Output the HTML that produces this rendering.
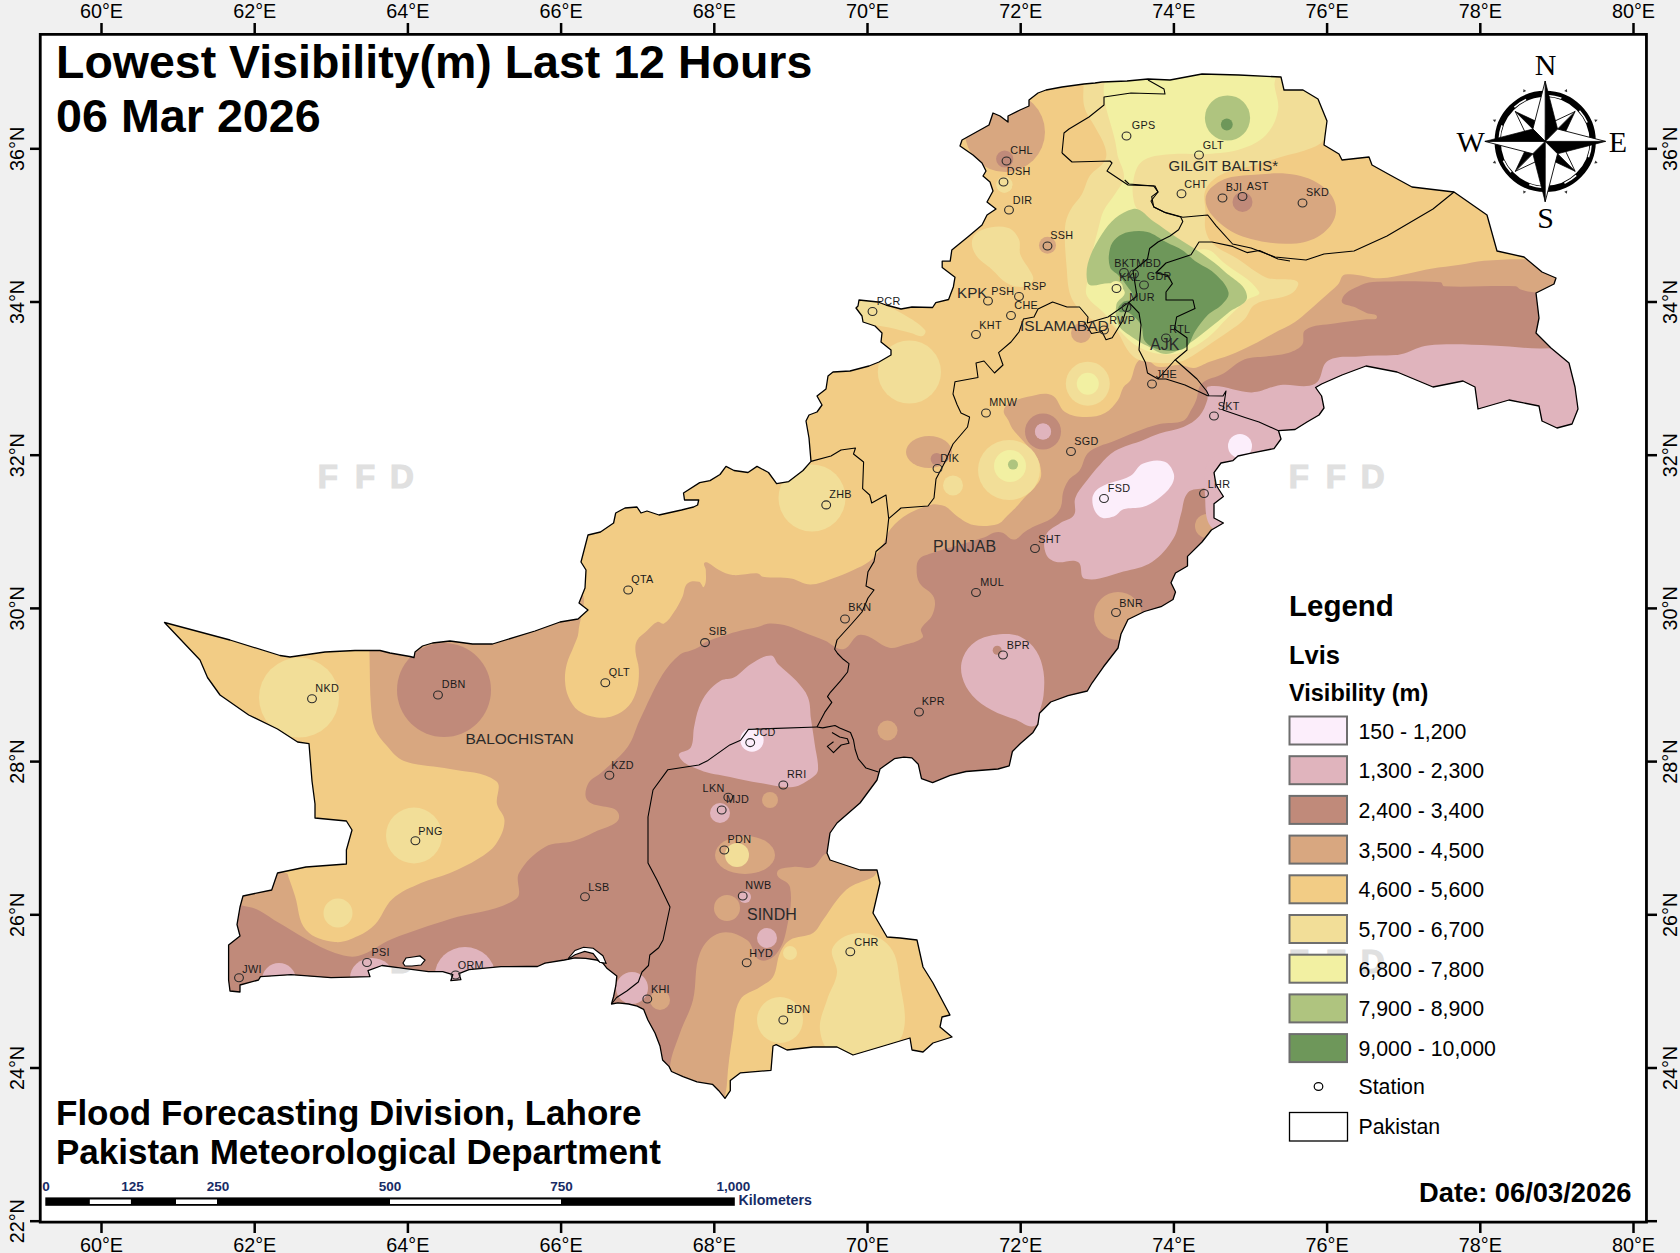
<!DOCTYPE html><html><head><meta charset="utf-8"><style>
html,body{margin:0;padding:0;background:#f0f0f0;width:1680px;height:1253px;overflow:hidden}
svg{display:block}
text{font-family:"Liberation Sans",sans-serif}
</style></head><body>
<svg width="1680" height="1253" viewBox="0 0 1680 1253">
<rect x="0" y="0" width="1680" height="1253" fill="#f0f0f0"/>
<rect x="40.5" y="34.5" width="1606" height="1187" fill="#ffffff"/>

<text x="317.8" y="488.2" font-size="33" font-weight="bold" fill="#e0e0e0" stroke="#e0e0e0" stroke-width="1.2">F</text>
<text x="354.9" y="488.2" font-size="33" font-weight="bold" fill="#e0e0e0" stroke="#e0e0e0" stroke-width="1.2">F</text>
<text x="389.9" y="488.2" font-size="33" font-weight="bold" fill="#e0e0e0" stroke="#e0e0e0" stroke-width="1.2">D</text>
<text x="1288.7" y="488.2" font-size="33" font-weight="bold" fill="#e0e0e0" stroke="#e0e0e0" stroke-width="1.2">F</text>
<text x="1325.8" y="488.2" font-size="33" font-weight="bold" fill="#e0e0e0" stroke="#e0e0e0" stroke-width="1.2">F</text>
<text x="1360.8" y="488.2" font-size="33" font-weight="bold" fill="#e0e0e0" stroke="#e0e0e0" stroke-width="1.2">D</text>
<text x="317.8" y="973.2" font-size="33" font-weight="bold" fill="#e0e0e0" stroke="#e0e0e0" stroke-width="1.2">F</text>
<text x="354.9" y="973.2" font-size="33" font-weight="bold" fill="#e0e0e0" stroke="#e0e0e0" stroke-width="1.2">F</text>
<text x="389.9" y="973.2" font-size="33" font-weight="bold" fill="#e0e0e0" stroke="#e0e0e0" stroke-width="1.2">D</text>
<text x="1288.7" y="973.2" font-size="33" font-weight="bold" fill="#e0e0e0" stroke="#e0e0e0" stroke-width="1.2">F</text>
<text x="1325.8" y="973.2" font-size="33" font-weight="bold" fill="#e0e0e0" stroke="#e0e0e0" stroke-width="1.2">F</text>
<text x="1360.8" y="973.2" font-size="33" font-weight="bold" fill="#e0e0e0" stroke="#e0e0e0" stroke-width="1.2">D</text>
<defs><clipPath id="pk"><path d="M164.5,622.5 L230,640 L280,655.5 L290,657 L325,652 L355,650.5 L380,650.5 L390,653 L410,656.5 L414,657.5 L415,652 L422.5,646 L432.5,643 L450,641 L472.5,644 L492.5,644 L535,631 L560,622 L578,619 L588,610 L579,603 L585,588 L586,570 L581,562 L588,535 L600.5,532 L613.6,523 L615.7,513 L625,508 L637,507 L641,513 L647,511 L659,515 L681.5,510 L693.6,507 L697.6,505 L698.7,500 L684.5,500 L683.5,493 L699.7,482.6 L710,480.6 L720,474.5 L726,466.4 L734,470.5 L748,472.5 L757,466.4 L768.5,472.5 L776.6,483.6 L788.7,481.6 L803,470.5 L811,461.4 L809,438 L806,421 L809,415 L817,412 L822,405 L817,396 L826,389 L828,376 L833,372 L850,371 L869,366 L879,362 L891,355 L891,350 L886,346 L881,342 L882,333 L875,326 L863,322 L862,316 L856,308 L858,306 L859,300 L878,302 L886,305 L901,309 L912,307 L932.6,307.5 L935.8,302.7 L948.6,299.5 L953.4,286.7 L955,277.2 L942.2,267.6 L942.2,261.2 L950.2,261.2 L951.8,250 L969.3,235.7 L982,225 L987,215 L996,209 L987,202 L993,191 L990,182 L983,176 L986,171 L982,163 L973,155 L960,146 L962,140 L989,125 L993,113 L1000,116 L1008,122 L1008,116 L1020,110 L1029,106 L1029,100 L1038,93 L1046,90 L1062,87 L1084,84 L1095,83 L1102,82 L1127,81 L1148,79 L1170,80 L1202,74 L1239,75 L1281,77 L1284,90 L1303,90 L1318,99 L1327,121 L1325,136 L1324,145 L1339,154 L1342,160 L1369,157 L1372,165 L1390,175 L1412,187 L1454,192 L1487,215 L1497,251 L1524,257 L1542,272 L1556,278 L1554,284 L1536,293 L1539,318 L1536,333 L1551,348 L1569,363 L1575,387 L1578,409 L1572,424 L1557,428 L1542,421 L1539,406 L1509,400 L1478,409 L1475,387 L1463,381 L1433,387 L1397,372 L1366,366 L1342,375 L1321.6,384 L1315.6,387.5 L1321.6,396 L1324,408 L1319,415 L1307,422 L1295,429.5 L1278.5,430.7 L1281,439 L1274,448.6 L1250,453.4 L1238,456 L1233,460.6 L1221,463 L1214,472.6 L1216,484.5 L1218.6,489 L1223.4,496.5 L1214,503.7 L1214,518 L1223.4,523 L1211.4,530 L1202,542 L1187.5,556.4 L1187.5,566 L1175.5,573 L1171,582.8 L1175.5,592 L1173,599.5 L1161,606.7 L1144.4,611.5 L1128,619.5 L1121,634 L1118,648 L1103.3,667 L1092,683 L1087.3,691 L1068,695.7 L1050.7,702 L1039.5,713.2 L1037.9,724.4 L1033,732.4 L1020.4,743.5 L1012.4,751.5 L1009.2,765.9 L998,769 L966,771.5 L950.2,775.4 L932.6,782.6 L921.5,778.6 L918.3,764.3 L911.9,757.9 L903.9,757.1 L894.4,758.7 L880,769 L877,780 L860,803 L837,823 L830,833 L827,853 L830,860 L860,870 L877,870 L880,883 L873,913 L887,937 L900,938 L917,940 L923,967 L933,983 L950,1015 L942,1017 L940,1027 L952,1037 L933,1043 L923,1052 L912,1050 L910,1038 L880,1047 L853,1055 L837,1047 L813,1047 L787,1050 L776.2,1044.7 L773,1046 L771,1070.3 L740.5,1072.8 L730.3,1080.5 L730.3,1090.7 L725,1098.4 L718.8,1090.7 L712.4,1084.3 L697,1081.8 L683,1076.7 L671.5,1071.5 L669,1066.4 L662.6,1060 L660,1046 L655,1033 L647.9,1020 L643.6,1009.3 L637.2,1006.1 L628.6,1004 L617.9,1002.9 L611.5,1004 L613.6,996.5 L615.8,985.7 L616.8,976.1 L607.2,968.6 L602.9,963.2 L596.5,960 L585.7,958.4 L575,957.9 L564.3,960 L545,963.2 L537.5,966.5 L526.8,966.5 L501,966.6 L469,969.6 L458.9,973.6 L460.9,979.7 L450.8,980.7 L452.8,974.7 L442.7,971.6 L428.5,971.6 L398,967.6 L382,965.5 L368,970.6 L370,976.7 L331,977.7 L291,974.7 L260.5,976.7 L258.5,980 L240,985 L240,992 L230,991 L228.6,980 L228.6,945 L240,936 L237,924.6 L240,907 L243,896 L271.7,890 L277.5,873 L306,867 L346.4,864 L346.4,850 L352,830 L346.4,821 L315,818 L315,804 L312,781 L309,743.6 L297.6,742 L277.5,729 L248.7,715 L220,695 L207.5,677.5 L200,660Z"/></clipPath></defs>
<g clip-path="url(#pk)">
<rect x="0" y="0" width="1680" height="1253" fill="#F2CC85"/>
<path d="M369.0,590.0 C355.3,592.6 369.2,616.0 369.3,630.0 C369.4,640.5 369.4,649.5 369.6,660.0 C370.0,676.1 369.7,689.9 371.0,706.0 C371.6,714.1 372.0,721.4 375.0,729.0 C377.7,735.8 382.1,740.6 387.0,746.0 C392.3,751.9 396.5,758.3 404.0,761.0 C419.4,766.6 434.0,765.5 450.0,769.0 C466.3,772.5 482.7,771.1 496.0,781.0 C502.5,785.8 495.3,796.1 497.0,804.0 C498.4,810.4 504.7,814.5 504.5,821.0 C504.3,829.6 500.9,836.9 496.0,844.0 C491.5,850.5 485.3,854.3 478.6,858.5 C469.1,864.5 460.3,868.6 450.0,873.0 C440.1,877.2 430.8,878.6 421.0,883.0 C410.5,887.7 400.9,891.3 392.4,899.0 C384.4,906.3 382.4,916.7 375.0,924.6 C370.1,929.8 364.6,933.1 358.0,936.0 C350.4,939.3 343.3,943.0 335.0,942.0 C324.1,940.7 313.2,938.3 306.0,930.0 C297.8,920.6 298.9,907.9 295.0,896.0 C293.0,889.9 291.3,884.6 289.0,878.6 C288.2,876.5 288.2,873.1 286.0,873.0 C238.4,871.1 171.0,830.3 150.0,873.0 C107.3,960.0 54.7,1132.4 150.0,1150.0 C666.3,1245.3 1198.2,1417.4 1650.0,1150.0 C1917.4,991.7 1681.3,571.2 1650.0,262.0 C1646.8,230.7 1591.5,262.7 1560.0,262.0 C1547.3,261.7 1536.5,259.4 1523.8,259.2 C1509.9,259.0 1497.9,259.6 1484.0,260.8 C1475.5,261.5 1468.4,263.5 1460.0,264.8 C1449.9,266.3 1441.1,267.1 1431.0,268.8 C1423.2,270.1 1416.6,272.0 1408.8,273.5 C1398.8,275.4 1390.2,278.1 1380.0,278.3 C1367.7,278.5 1357.2,272.7 1345.0,274.5 C1340.7,275.1 1340.9,281.4 1338.0,284.6 C1333.4,289.5 1328.7,293.0 1323.7,297.5 C1318.6,302.1 1314.2,306.0 1309.0,310.5 C1304.2,314.6 1300.3,318.6 1295.0,322.0 C1287.8,326.6 1280.9,329.4 1273.4,333.4 C1265.9,337.4 1259.6,341.2 1252.0,345.0 C1244.4,348.8 1237.9,351.9 1230.0,355.0 C1222.8,357.8 1216.3,359.4 1209.0,362.0 C1203.7,363.9 1199.6,367.4 1194.0,368.0 C1189.0,368.5 1185.0,365.2 1180.0,365.0 C1172.3,364.7 1165.6,368.1 1158.0,366.7 C1152.8,365.7 1150.6,359.4 1145.4,358.4 C1142.2,357.8 1138.9,359.9 1137.0,362.6 C1133.3,368.0 1133.7,374.3 1130.6,380.0 C1128.9,383.1 1125.3,384.2 1123.4,387.2 C1120.8,391.3 1120.8,396.0 1118.0,400.0 C1114.3,405.2 1110.7,410.1 1105.0,413.0 C1098.7,416.3 1092.1,417.2 1085.0,417.0 C1077.8,416.8 1071.0,416.0 1065.0,412.0 C1058.7,407.8 1058.6,397.9 1051.6,395.0 C1043.8,391.8 1035.8,395.1 1027.6,396.8 C1020.6,398.3 1014.6,400.4 1008.5,404.0 C1005.9,405.5 1003.8,408.0 1003.7,411.0 C1003.6,414.5 1006.6,416.8 1008.2,420.0 C1009.7,423.1 1010.6,426.0 1012.6,428.9 C1014.9,432.3 1017.6,434.8 1020.4,437.9 C1023.5,441.4 1026.4,444.3 1029.4,447.9 C1032.3,451.3 1035.0,454.1 1037.2,458.0 C1039.0,461.2 1040.0,464.4 1040.6,468.0 C1041.2,471.5 1041.6,474.7 1040.6,478.1 C1039.6,481.6 1037.3,484.1 1035.0,487.0 C1032.2,490.5 1029.1,492.8 1026.0,496.0 C1022.4,499.8 1019.6,503.4 1016.0,507.2 C1013.0,510.4 1010.2,513.0 1007.0,516.0 C1003.9,518.9 1002.0,522.8 998.0,523.9 C989.7,526.1 981.9,526.6 973.5,525.0 C967.0,523.7 962.3,519.7 956.8,516.0 C952.9,513.4 950.6,509.8 946.7,507.2 C944.6,505.8 942.4,505.4 940.0,505.0 C937.2,504.5 934.7,503.7 932.0,504.5 C923.3,506.9 915.8,509.4 908.0,514.0 C901.3,518.0 895.8,522.4 891.0,528.5 C886.1,534.7 885.0,542.0 880.7,548.6 C877.4,553.7 874.0,557.9 869.2,561.6 C864.3,565.5 859.1,567.4 853.4,570.0 C846.0,573.4 839.5,576.2 831.8,578.8 C824.4,581.3 818.1,584.6 810.3,584.5 C803.2,584.4 798.0,579.5 791.0,578.4 C781.2,576.8 772.6,578.2 762.8,576.7 C760.7,576.4 759.9,573.5 757.8,573.4 C749.0,572.9 741.4,575.8 732.6,575.0 C727.5,574.6 723.5,572.3 719.0,570.0 C714.7,567.9 711.9,564.4 707.5,562.5 C706.3,562.0 704.3,562.2 704.0,563.4 C703.5,565.7 705.8,567.6 705.8,570.0 C705.8,575.9 707.0,581.7 704.0,586.8 C702.8,588.9 701.4,582.3 699.0,581.8 C695.0,581.0 690.4,580.7 687.4,583.5 C683.7,586.9 684.5,592.4 682.4,596.9 C679.8,602.4 677.4,607.0 674.0,612.0 C671.0,616.4 668.6,620.8 664.0,623.6 C661.9,624.8 659.5,621.1 657.3,622.0 C653.0,623.7 650.6,627.3 647.2,630.4 C643.5,633.8 639.4,636.0 637.0,640.4 C635.1,644.0 635.2,647.9 635.5,652.0 C635.9,658.0 638.6,662.9 638.8,668.9 C639.1,676.0 638.9,682.2 637.0,689.0 C635.3,695.3 633.1,700.8 628.8,705.7 C624.6,710.5 619.7,713.6 613.7,715.8 C608.2,717.8 602.8,718.3 597.0,717.5 C590.2,716.5 584.1,714.8 578.5,710.8 C573.7,707.3 570.9,702.4 568.5,697.0 C566.1,691.6 565.3,686.5 565.0,680.6 C564.7,674.7 565.4,669.6 566.8,663.9 C568.4,657.7 571.3,653.0 573.5,647.0 C575.4,641.8 578.2,637.5 578.5,632.0 C579.4,617.3 591.3,592.9 576.9,590.0 C505.6,575.7 440.5,576.2 369.0,590.0Z" fill="#D8A780"/>
<path d="M727.0,1150.0 C704.2,1144.4 725.8,1106.4 727.0,1083.0 C727.9,1065.4 730.3,1050.4 733.0,1033.0 C734.8,1021.3 734.0,1010.2 740.0,1000.0 C744.2,992.8 753.2,991.8 760.0,987.0 C764.7,983.7 770.1,981.9 773.0,977.0 C777.4,969.5 776.3,961.0 780.0,953.0 C782.4,947.8 785.1,943.0 790.0,940.0 C797.2,935.6 805.8,937.4 813.0,933.0 C817.9,930.0 819.6,924.6 823.0,920.0 C828.0,913.1 831.6,906.6 837.0,900.0 C841.1,895.0 844.6,890.5 850.0,887.0 C857.4,882.3 865.4,881.3 873.0,877.0 C876.0,875.3 876.6,870.5 880.0,870.0 C921.8,864.4 983.4,821.3 1000.0,860.0 C1040.0,953.3 1069.6,1076.1 1000.0,1150.0 C934.5,1219.6 819.8,1172.8 727.0,1150.0Z" fill="#F2CC85"/>
<path d="M150.0,900.0 C163.1,867.8 214.8,901.1 249.0,907.0 C260.1,908.9 267.7,916.5 277.5,922.0 C287.6,927.7 295.8,933.5 306.0,939.0 C315.9,944.3 324.3,949.5 335.0,953.0 C342.7,955.5 350.1,957.9 358.0,956.0 C370.9,952.8 379.7,944.0 392.0,939.0 C411.9,931.0 429.6,925.6 450.0,919.0 C473.0,911.6 495.9,912.4 516.0,899.0 C523.6,893.9 514.5,881.0 519.0,873.0 C525.3,861.8 533.9,853.5 545.0,847.0 C553.8,841.8 563.7,843.9 573.4,841.0 C580.7,838.8 586.9,836.4 593.6,832.6 C603.0,827.2 620.9,825.6 619.0,815.0 C616.9,803.3 596.4,809.4 588.0,801.0 C583.8,796.8 585.4,789.4 588.0,784.0 C590.8,778.2 597.3,776.4 602.0,772.0 C611.3,763.3 620.5,756.7 628.0,746.4 C633.8,738.4 635.2,729.5 639.5,720.6 C647.3,704.4 653.1,689.9 662.5,674.6 C667.4,666.6 672.9,660.5 680.0,654.5 C683.1,651.9 687.1,652.0 690.8,650.5 C693.7,649.4 696.3,648.5 699.0,647.0 C701.6,645.5 703.1,643.2 705.8,642.0 C711.9,639.1 717.6,637.5 724.0,635.4 C729.9,633.5 735.0,631.9 741.0,630.4 C746.8,629.0 752.0,628.4 757.8,627.0 C761.9,626.0 765.2,623.7 769.5,623.6 C776.3,623.4 782.1,624.6 788.7,626.2 C793.9,627.5 798.0,630.0 803.0,632.0 C810.6,635.0 817.2,637.4 824.7,640.6 C831.3,643.4 836.2,650.3 843.3,649.2 C851.1,647.9 852.7,635.0 860.6,634.8 C871.6,634.5 878.6,645.3 889.3,647.8 C894.3,649.0 898.8,646.5 903.7,645.0 C910.4,642.9 917.2,642.5 922.4,637.7 C924.7,635.6 919.8,631.8 921.0,629.0 C923.6,623.1 930.0,620.6 932.4,614.7 C934.7,609.1 936.2,603.1 933.9,597.5 C931.2,590.9 923.2,589.1 919.5,583.0 C916.9,578.6 916.6,573.8 916.6,568.7 C916.6,565.1 916.9,561.3 919.5,558.7 C923.0,555.2 927.8,554.7 932.4,553.0 C937.3,551.2 941.8,550.1 946.8,548.6 C960.1,544.6 971.6,541.7 984.7,537.3 C988.0,536.2 990.2,533.7 993.6,532.8 C996.7,532.0 999.6,531.8 1002.6,532.8 C1006.9,534.3 1009.1,539.8 1013.7,539.6 C1018.5,539.4 1020.9,534.3 1025.0,531.7 C1028.4,529.6 1031.4,527.9 1035.0,526.1 C1040.8,523.2 1046.5,522.1 1051.7,518.3 C1055.7,515.3 1058.7,511.8 1060.7,507.2 C1062.8,502.5 1061.6,497.6 1063.0,492.6 C1064.3,488.1 1065.7,484.1 1068.5,480.3 C1071.7,476.1 1076.7,474.6 1079.7,470.3 C1083.4,465.0 1083.3,458.5 1087.5,453.5 C1090.8,449.6 1095.4,448.2 1100.0,446.0 C1103.9,444.2 1107.6,443.6 1111.6,442.0 C1120.1,438.7 1127.1,435.2 1135.6,432.0 C1143.9,428.9 1150.9,426.0 1159.5,424.0 C1167.7,422.1 1175.7,424.2 1183.4,420.7 C1187.8,418.7 1188.9,413.7 1191.4,409.6 C1193.4,406.4 1194.8,403.5 1196.2,400.0 C1198.4,394.4 1197.3,387.9 1201.6,383.7 C1207.5,377.9 1215.8,377.8 1223.0,373.7 C1230.9,369.2 1236.2,362.7 1244.7,359.3 C1251.7,356.5 1258.5,357.4 1266.0,356.4 C1273.0,355.4 1279.3,355.7 1286.0,353.6 C1292.1,351.7 1298.0,349.9 1302.0,345.0 C1305.4,340.8 1300.9,333.0 1305.4,330.0 C1314.0,324.3 1324.1,325.4 1334.3,323.6 C1345.5,321.6 1355.3,321.0 1366.5,319.3 C1370.2,318.7 1377.0,320.8 1377.0,317.0 C1377.0,313.1 1370.1,314.5 1366.5,312.9 C1362.6,311.2 1359.4,309.5 1355.7,307.5 C1350.8,304.9 1340.5,305.4 1341.8,300.0 C1343.8,291.7 1353.4,288.9 1361.0,285.0 C1366.1,282.4 1371.3,282.0 1377.0,281.8 C1399.3,281.0 1418.5,280.8 1440.7,282.3 C1442.5,282.4 1442.2,286.2 1444.0,286.3 C1469.1,287.6 1490.7,285.3 1515.8,286.3 C1517.8,286.4 1518.6,289.0 1520.6,289.5 C1527.1,291.3 1532.9,292.5 1539.7,292.7 C1578.3,293.7 1641.8,255.0 1650.0,292.7 C1687.7,466.2 1791.8,693.2 1650.0,800.0 C1454.2,947.5 1194.6,804.2 950.0,820.0 C905.5,822.9 869.2,838.5 827.0,853.0 C820.4,855.2 819.4,864.4 813.0,867.0 C806.5,869.7 799.9,865.8 793.0,867.0 C787.1,868.0 777.9,867.1 777.0,873.0 C776.0,879.6 788.8,880.4 790.0,887.0 C792.6,900.8 789.7,913.2 787.0,927.0 C785.1,936.6 783.2,945.5 777.0,953.0 C772.9,958.0 765.9,962.6 760.0,960.0 C752.3,956.7 753.9,944.7 747.0,940.0 C738.9,934.5 729.4,930.4 720.0,933.0 C710.5,935.6 703.7,943.8 700.0,953.0 C693.8,968.4 697.0,983.9 693.0,1000.0 C690.0,1012.0 684.0,1021.3 680.0,1033.0 C676.0,1044.7 671.1,1054.6 670.0,1067.0 C667.5,1095.9 698.7,1145.4 670.0,1150.0 C490.3,1178.7 314.0,1228.9 150.0,1150.0 C71.1,1112.1 117.0,981.0 150.0,900.0Z" fill="#C08A7A"/>
<circle cx="444" cy="690" r="47" fill="#C08A7A"/>
<ellipse cx="745" cy="855" rx="30" ry="19" fill="#D8A780"/>
<circle cx="727" cy="908" r="13" fill="#D8A780"/>
<circle cx="660" cy="1000" r="10" fill="#D8A780"/>
<circle cx="1118" cy="616" r="24" fill="#D8A780"/>
<circle cx="1207" cy="526" r="12" fill="#D8A780"/>
<circle cx="887.5" cy="730.5" r="10" fill="#D8A780"/>
<circle cx="770" cy="800" r="8" fill="#D8A780"/>
<path d="M679.0,756.0 C677.1,751.3 688.4,752.1 690.8,747.6 C694.1,741.3 692.6,734.5 694.0,727.5 C695.4,720.4 696.4,714.2 699.0,707.4 C701.2,701.7 703.7,697.0 707.5,692.3 C711.5,687.5 715.5,683.7 721.0,680.6 C725.2,678.3 730.1,679.6 734.3,677.3 C740.8,673.7 744.6,667.7 751.0,663.9 C757.5,660.0 763.4,655.5 771.0,655.5 C774.8,655.5 775.2,661.2 777.9,663.9 C784.0,670.0 790.2,674.2 796.0,680.6 C800.8,686.0 805.4,690.7 808.0,697.4 C810.8,704.5 809.9,711.4 811.0,719.0 C812.3,727.8 813.5,735.2 814.7,744.0 C815.9,753.1 818.5,760.8 818.0,770.0 C817.8,773.0 815.5,775.3 813.0,777.0 C806.5,781.4 800.8,786.1 793.0,787.0 C781.4,788.3 771.5,784.8 760.0,783.0 C749.4,781.3 740.5,779.3 730.0,777.0 C719.5,774.7 710.0,774.1 700.0,770.0 C691.8,766.6 682.4,764.2 679.0,756.0Z" fill="#E0B4BD"/>
<path d="M975.7,641.5 C983.1,636.8 990.9,635.2 999.6,634.3 C1006.9,633.5 1013.7,633.7 1020.4,636.7 C1027.2,639.8 1032.2,644.7 1036.3,651.0 C1040.5,657.4 1042.3,664.2 1043.5,671.8 C1044.8,680.1 1044.3,687.4 1043.5,695.7 C1042.9,701.4 1041.1,706.1 1039.5,711.6 C1038.0,716.7 1039.7,724.3 1034.7,726.0 C1028.0,728.2 1022.2,722.1 1015.6,719.6 C1007.1,716.5 999.5,714.4 991.6,710.0 C984.3,706.0 978.0,702.0 972.5,695.7 C967.5,690.0 963.9,684.0 962.1,676.6 C960.5,670.1 960.6,663.7 963.0,657.4 C965.6,650.8 969.7,645.3 975.7,641.5Z" fill="#E0B4BD"/>
<circle cx="997.2" cy="650.2" r="4.5" fill="#C08A7A"/>
<path d="M1046.0,554.0 C1043.6,547.8 1043.2,541.0 1046.0,535.0 C1048.8,529.0 1055.3,526.7 1060.7,522.8 C1065.1,519.7 1071.3,519.6 1074.0,515.0 C1077.0,509.9 1073.3,503.8 1075.2,498.2 C1077.3,492.1 1081.4,487.8 1085.3,482.6 C1090.1,476.1 1094.5,470.6 1100.0,464.7 C1104.8,459.5 1108.7,454.5 1114.8,451.0 C1124.2,445.7 1133.5,443.8 1143.5,439.9 C1149.1,437.7 1153.8,435.4 1159.5,433.5 C1167.7,430.8 1175.5,430.5 1183.4,427.0 C1189.6,424.3 1194.9,421.1 1199.4,416.0 C1203.5,411.3 1205.4,406.0 1207.3,400.0 C1208.7,395.5 1204.1,387.4 1208.7,386.6 C1223.7,384.0 1236.6,392.7 1251.8,392.4 C1262.2,392.2 1270.3,386.4 1280.6,385.0 C1292.5,383.4 1304.3,389.2 1315.0,383.7 C1323.2,379.5 1320.1,365.5 1328.0,360.7 C1337.5,354.9 1348.5,357.3 1359.6,356.4 C1372.1,355.3 1383.0,355.8 1395.5,355.0 C1398.5,354.8 1401.1,354.3 1404.0,353.4 C1412.5,350.9 1419.2,346.2 1428.0,345.4 C1450.2,343.4 1469.5,344.8 1491.8,345.4 C1508.6,345.9 1522.9,348.3 1539.7,348.6 C1578.3,349.4 1622.8,321.2 1650.0,348.6 C1677.4,376.3 1687.4,448.9 1650.0,460.0 C1512.4,500.8 1383.3,461.1 1240.0,470.0 C1226.2,470.9 1217.5,482.3 1204.8,487.8 C1199.2,490.2 1192.1,488.0 1188.0,492.5 C1182.7,498.4 1183.4,506.5 1181.0,514.0 C1178.4,522.4 1178.2,530.5 1173.7,538.0 C1167.8,547.7 1161.4,555.7 1152.0,562.0 C1143.2,567.9 1133.6,569.0 1123.4,571.6 C1110.1,574.9 1098.4,581.6 1085.0,578.8 C1078.8,577.5 1083.5,565.2 1078.0,562.0 C1071.5,558.2 1063.7,563.8 1056.4,562.0 C1051.9,560.9 1047.7,558.3 1046.0,554.0Z" fill="#E0B4BD"/>
<path d="M1210.0,460.0 C1217.0,452.0 1234.1,446.1 1240.0,455.0 C1252.8,474.2 1257.3,498.2 1250.0,520.0 C1246.0,532.1 1226.1,536.2 1215.0,530.0 C1203.9,523.8 1205.9,507.7 1205.0,495.0 C1204.1,482.7 1201.9,469.3 1210.0,460.0Z" fill="#E0B4BD"/>
<circle cx="1043" cy="431.5" r="18" fill="#C08A7A"/>
<circle cx="1043" cy="431.5" r="8" fill="#E0B4BD"/>
<circle cx="720" cy="813" r="10" fill="#E0B4BD"/>
<circle cx="745" cy="897" r="6" fill="#E0B4BD"/>
<circle cx="767" cy="938" r="10" fill="#E0B4BD"/>
<circle cx="632" cy="988" r="16" fill="#E0B4BD"/>
<circle cx="1043" cy="431.5" r="8" fill="#E0B4BD"/>
<circle cx="279" cy="980" r="17" fill="#E0B4BD"/>
<ellipse cx="372" cy="978" rx="22" ry="20" fill="#E0B4BD"/>
<ellipse cx="465" cy="975" rx="30" ry="28" fill="#E0B4BD"/>
<path d="M1092.3,499.7 C1092.3,494.8 1095.4,490.4 1099.5,487.8 C1109.4,481.6 1120.4,481.5 1130.6,475.8 C1135.8,472.9 1137.1,466.2 1142.6,463.8 C1149.5,460.8 1156.8,459.2 1164.0,461.4 C1169.2,463.0 1172.1,468.2 1173.7,473.4 C1174.9,477.5 1173.6,481.8 1171.3,485.4 C1167.5,491.4 1162.7,495.4 1157.0,499.7 C1152.5,503.1 1148.0,505.4 1142.6,507.0 C1136.1,508.9 1129.8,507.2 1123.4,509.3 C1119.4,510.6 1117.8,515.3 1113.8,516.5 C1109.0,517.9 1103.4,519.6 1099.5,516.5 C1094.5,512.6 1092.3,506.1 1092.3,499.7Z" fill="#FCEEFB"/>
<circle cx="1240" cy="446" r="12" fill="#FCEEFB"/>
<circle cx="752" cy="740" r="11.7" fill="#FCEEFB"/>
<path d="M833.0,947.0 C838.3,937.8 849.4,933.0 860.0,933.0 C871.6,933.0 882.8,938.0 890.0,947.0 C898.2,957.2 898.0,970.1 900.0,983.0 C902.6,1000.3 907.8,1016.1 903.0,1033.0 C900.1,1043.3 890.3,1050.1 880.0,1053.0 C864.2,1057.5 848.4,1058.9 833.0,1053.0 C824.4,1049.7 821.0,1039.2 820.0,1030.0 C818.8,1019.3 823.9,1010.3 827.0,1000.0 C829.9,990.3 835.9,983.0 837.0,973.0 C838.0,963.9 828.4,955.0 833.0,947.0Z" fill="#F2DE98"/>
<circle cx="780" cy="1020" r="23" fill="#F2DE98"/>
<circle cx="790" cy="953" r="7" fill="#F2DE98"/>
<circle cx="737" cy="855" r="12" fill="#F2DE98"/>
<circle cx="299" cy="697.6" r="40" fill="#F2DE98"/>
<circle cx="414" cy="835.5" r="28" fill="#F2DE98"/>
<circle cx="338" cy="913" r="14.5" fill="#F2DE98"/>
<circle cx="812" cy="498" r="33.5" fill="#F2DE98"/>
<circle cx="909.4" cy="372" r="31.6" fill="#F2DE98"/>
<path d="M860.6,301.6 C866.9,297.4 874.8,302.2 882.0,304.4 C890.0,306.8 896.5,310.2 903.7,314.5 C911.6,319.2 918.9,323.0 925.0,330.0 C926.5,331.7 924.6,335.5 922.4,336.0 C918.3,336.9 914.9,334.0 910.9,333.0 C903.2,331.0 896.7,329.1 889.0,327.4 C883.1,326.1 877.8,326.2 872.0,324.5 C867.7,323.2 862.6,322.8 860.6,318.8 C857.9,313.4 855.6,305.0 860.6,301.6Z" fill="#F2DE98"/>
<path d="M972.5,239.0 C974.1,234.1 978.8,230.9 983.7,229.3 C991.7,226.7 999.5,225.5 1007.6,227.7 C1013.0,229.2 1016.4,234.0 1018.8,239.0 C1021.2,244.0 1018.6,249.6 1020.4,254.8 C1022.6,261.0 1027.1,265.0 1030.0,270.8 C1031.5,273.8 1034.3,276.9 1033.0,280.0 C1031.5,283.8 1027.5,286.1 1023.5,286.7 C1017.9,287.5 1012.6,286.2 1007.6,283.5 C1001.0,279.9 997.2,274.2 991.6,269.2 C986.0,264.2 979.7,261.1 975.7,254.8 C972.7,250.0 970.8,244.4 972.5,239.0Z" fill="#F2DE98"/>
<circle cx="1004.4" cy="184.7" r="8" fill="#F2DE98"/>
<ellipse cx="1009" cy="470" rx="31" ry="30" fill="#F2DE98"/>
<circle cx="1010" cy="466" r="16" fill="#F2F0A2"/>
<circle cx="1013" cy="464.6" r="5" fill="#AFC47F"/>
<circle cx="953" cy="485.4" r="10" fill="#F2DE98"/>
<circle cx="1087.8" cy="383.7" r="22" fill="#F2DE98"/>
<circle cx="1087.8" cy="383.7" r="11" fill="#F2F0A2"/>
<path d="M1083.5,60.0 C1075.3,60.8 1083.3,75.3 1083.5,83.5 C1083.7,91.7 1082.3,99.0 1084.4,107.0 C1086.4,114.7 1091.4,120.0 1095.0,127.0 C1098.6,134.0 1102.8,139.5 1105.0,147.0 C1106.4,151.5 1107.2,156.3 1105.0,160.5 C1101.5,167.1 1094.2,169.5 1090.0,175.6 C1086.0,181.4 1085.5,187.9 1082.0,194.0 C1078.4,200.3 1073.3,204.4 1070.0,210.8 C1067.2,216.2 1065.4,221.4 1065.0,227.5 C1064.2,241.3 1065.5,253.2 1066.6,267.0 C1067.5,277.2 1067.3,286.3 1070.7,296.0 C1073.2,302.9 1077.8,307.8 1083.0,313.0 C1086.7,316.7 1090.8,319.0 1095.6,321.0 C1101.1,323.3 1107.7,320.9 1112.0,325.0 C1121.6,334.1 1123.2,347.5 1133.0,356.3 C1138.6,361.4 1146.2,361.5 1153.7,362.6 C1160.9,363.7 1167.3,363.4 1174.5,362.6 C1179.0,362.1 1183.0,361.1 1187.0,359.0 C1195.0,354.9 1201.2,350.0 1208.7,345.0 C1216.2,340.0 1222.7,335.9 1230.0,330.6 C1235.3,326.8 1240.2,323.7 1244.7,319.0 C1248.9,314.6 1249.5,307.9 1254.7,304.7 C1268.7,296.0 1291.5,301.2 1297.8,286.0 C1302.2,275.3 1276.5,282.2 1266.0,277.4 C1255.1,272.5 1247.6,265.1 1237.5,258.7 C1229.0,253.4 1220.4,250.7 1213.0,244.0 C1208.9,240.3 1206.8,235.4 1205.5,230.0 C1204.0,223.7 1205.5,218.0 1205.5,211.6 C1205.5,204.0 1202.6,197.0 1205.5,190.0 C1208.3,183.1 1214.0,178.5 1220.6,175.0 C1230.4,169.8 1240.4,169.2 1251.0,166.0 C1261.5,162.9 1270.5,160.1 1281.0,157.0 C1291.7,153.8 1301.3,152.3 1311.6,148.0 C1316.5,145.9 1321.8,143.9 1324.0,139.0 C1327.6,131.2 1326.3,123.2 1327.0,114.6 C1328.4,95.5 1348.7,64.2 1330.0,60.0 C1245.8,41.1 1169.4,51.8 1083.5,60.0Z" fill="#F2DE98"/>
<path d="M1115.0,70.0 C1089.5,83.3 1114.6,123.4 1117.0,152.0 C1117.8,161.1 1124.4,167.9 1124.0,177.0 C1123.7,183.7 1118.5,188.2 1115.0,194.0 C1111.3,200.1 1106.7,204.4 1103.6,210.8 C1100.9,216.3 1100.2,221.6 1098.6,227.5 C1096.5,235.3 1094.7,242.1 1093.0,250.0 C1090.6,261.5 1088.5,271.4 1087.0,283.0 C1086.4,287.5 1084.8,292.0 1087.0,296.0 C1091.1,303.3 1098.2,306.9 1104.0,313.0 C1109.3,318.6 1113.1,324.0 1118.5,329.4 C1124.7,335.6 1129.5,341.6 1137.0,346.0 C1144.3,350.3 1151.5,352.9 1160.0,354.0 C1167.9,355.0 1175.2,354.6 1182.8,352.0 C1192.3,348.8 1199.7,343.8 1207.7,337.7 C1215.8,331.5 1221.0,324.1 1228.4,317.0 C1234.8,310.9 1240.2,305.6 1247.0,300.0 C1250.9,296.8 1261.7,296.1 1259.0,291.8 C1250.3,278.0 1235.6,272.5 1223.0,262.0 C1218.0,257.8 1214.8,252.2 1208.7,250.0 C1202.5,247.8 1196.5,250.9 1190.0,250.0 C1184.2,249.2 1179.4,247.3 1174.0,245.0 C1167.8,242.4 1162.1,240.4 1157.0,236.0 C1151.3,231.1 1148.2,225.2 1144.0,219.0 C1140.1,213.3 1135.6,208.7 1134.0,202.0 C1132.0,193.5 1132.0,185.5 1134.0,177.0 C1135.6,170.3 1138.0,163.4 1144.0,160.0 C1153.3,154.7 1163.3,155.0 1174.0,154.0 C1185.7,152.9 1195.8,154.9 1207.5,154.0 C1219.3,153.1 1229.7,152.7 1241.0,149.0 C1250.5,145.9 1259.1,142.3 1266.0,135.0 C1272.7,128.0 1276.4,119.6 1278.0,110.0 C1279.5,101.3 1275.3,93.8 1274.5,85.0 C1274.0,79.8 1279.7,70.5 1274.5,70.0 C1218.9,64.8 1164.5,44.2 1115.0,70.0Z" fill="#F2F0A2"/>
<path d="M1087.3,281.7 C1083.8,264.6 1092.7,248.8 1102.0,234.0 C1109.4,222.2 1119.5,212.3 1133.0,209.0 C1141.2,207.0 1146.6,216.9 1153.7,221.5 C1161.1,226.3 1167.1,231.1 1174.5,236.0 C1184.5,242.7 1193.6,247.7 1203.5,254.7 C1211.0,260.0 1217.4,264.7 1224.0,271.0 C1232.6,279.2 1245.8,284.2 1247.0,296.0 C1247.9,304.7 1235.1,307.1 1228.4,312.8 C1221.3,318.8 1215.1,323.8 1207.7,329.4 C1199.9,335.4 1193.5,341.0 1185.0,346.0 C1178.8,349.7 1173.2,354.0 1166.0,354.0 C1158.9,354.0 1153.8,349.1 1147.5,346.0 C1142.3,343.4 1137.7,341.1 1133.0,337.7 C1127.5,333.7 1121.5,331.0 1118.5,325.0 C1115.3,318.5 1115.1,311.6 1116.4,304.5 C1117.4,299.3 1125.7,297.1 1124.7,292.0 C1123.7,286.9 1117.3,285.1 1112.2,283.7 C1103.8,281.4 1089.1,290.3 1087.3,281.7Z" fill="#AFC47F"/>
<path d="M1110.0,248.5 C1110.9,244.3 1113.2,240.8 1116.4,238.0 C1120.0,234.8 1124.1,232.9 1128.8,232.0 C1135.2,230.8 1141.2,230.3 1147.5,232.0 C1154.6,233.9 1159.5,238.6 1166.0,242.0 C1171.8,245.1 1177.3,246.9 1182.8,250.5 C1187.5,253.6 1190.4,257.7 1195.0,261.0 C1201.4,265.6 1208.2,267.6 1214.0,273.0 C1220.1,278.7 1226.3,283.9 1228.4,292.0 C1229.6,296.8 1225.3,300.8 1222.0,304.5 C1217.8,309.1 1212.1,310.6 1207.7,315.0 C1202.5,320.2 1199.1,325.5 1195.0,331.5 C1191.2,337.1 1190.9,344.7 1185.0,348.0 C1178.0,352.0 1170.0,351.2 1162.0,350.0 C1155.6,349.0 1149.6,346.8 1145.4,341.8 C1141.5,337.1 1144.0,330.3 1141.0,325.0 C1138.0,319.8 1133.9,316.0 1128.8,312.8 C1125.7,310.8 1120.4,313.9 1118.5,310.7 C1116.8,307.9 1120.2,304.5 1122.6,302.4 C1125.6,299.8 1132.0,301.8 1133.0,298.0 C1134.2,293.4 1129.4,289.8 1126.8,285.8 C1124.3,281.9 1121.6,278.9 1118.5,275.4 C1115.7,272.3 1111.3,271.0 1110.0,267.0 C1108.0,260.8 1108.6,254.8 1110.0,248.5Z" fill="#6E975A"/>
<circle cx="1116" cy="288" r="7" fill="#F2F0A2"/>
<circle cx="1227.5" cy="118" r="22.6" fill="#AFC47F"/>
<circle cx="1226.8" cy="124.5" r="5.9" fill="#6E975A"/>
<circle cx="1005" cy="132" r="40" fill="#D8A780"/>
<circle cx="1004.7" cy="159" r="8.6" fill="#C08A7A"/>
<circle cx="1004.4" cy="184.7" r="8" fill="#F2DE98"/>
<path d="M1205.5,199.5 C1205.5,191.1 1213.2,185.0 1220.6,181.0 C1230.1,175.9 1240.2,175.9 1251.0,175.0 C1266.8,173.7 1280.8,171.9 1296.4,175.0 C1308.0,177.3 1318.1,181.9 1326.8,190.0 C1332.8,195.6 1336.6,203.4 1336.0,211.6 C1335.4,220.2 1330.4,227.4 1323.7,232.8 C1315.7,239.2 1306.6,242.5 1296.4,243.4 C1280.5,244.8 1266.5,243.0 1251.0,239.0 C1239.5,236.0 1229.6,231.5 1220.6,223.7 C1213.1,217.2 1205.5,209.5 1205.5,199.5Z" fill="#D8A780"/>
<circle cx="1242.5" cy="202" r="10" fill="#C08A7A"/>
<circle cx="1047.5" cy="245.3" r="8.5" fill="#D8A780"/>
<circle cx="1081" cy="333" r="10" fill="#D8A780"/>
<ellipse cx="929" cy="452" rx="23" ry="16" fill="#D8A780"/>
<circle cx="936.6" cy="459" r="6" fill="#C08A7A"/>
</g>
<path d="M164.5,622.5 L230,640 L280,655.5 L290,657 L325,652 L355,650.5 L380,650.5 L390,653 L410,656.5 L414,657.5 L415,652 L422.5,646 L432.5,643 L450,641 L472.5,644 L492.5,644 L535,631 L560,622 L578,619 L588,610 L579,603 L585,588 L586,570 L581,562 L588,535 L600.5,532 L613.6,523 L615.7,513 L625,508 L637,507 L641,513 L647,511 L659,515 L681.5,510 L693.6,507 L697.6,505 L698.7,500 L684.5,500 L683.5,493 L699.7,482.6 L710,480.6 L720,474.5 L726,466.4 L734,470.5 L748,472.5 L757,466.4 L768.5,472.5 L776.6,483.6 L788.7,481.6 L803,470.5 L811,461.4 L809,438 L806,421 L809,415 L817,412 L822,405 L817,396 L826,389 L828,376 L833,372 L850,371 L869,366 L879,362 L891,355 L891,350 L886,346 L881,342 L882,333 L875,326 L863,322 L862,316 L856,308 L858,306 L859,300 L878,302 L886,305 L901,309 L912,307 L932.6,307.5 L935.8,302.7 L948.6,299.5 L953.4,286.7 L955,277.2 L942.2,267.6 L942.2,261.2 L950.2,261.2 L951.8,250 L969.3,235.7 L982,225 L987,215 L996,209 L987,202 L993,191 L990,182 L983,176 L986,171 L982,163 L973,155 L960,146 L962,140 L989,125 L993,113 L1000,116 L1008,122 L1008,116 L1020,110 L1029,106 L1029,100 L1038,93 L1046,90 L1062,87 L1084,84 L1095,83 L1102,82 L1127,81 L1148,79 L1170,80 L1202,74 L1239,75 L1281,77 L1284,90 L1303,90 L1318,99 L1327,121 L1325,136 L1324,145 L1339,154 L1342,160 L1369,157 L1372,165 L1390,175 L1412,187 L1454,192 L1487,215 L1497,251 L1524,257 L1542,272 L1556,278 L1554,284 L1536,293 L1539,318 L1536,333 L1551,348 L1569,363 L1575,387 L1578,409 L1572,424 L1557,428 L1542,421 L1539,406 L1509,400 L1478,409 L1475,387 L1463,381 L1433,387 L1397,372 L1366,366 L1342,375 L1321.6,384 L1315.6,387.5 L1321.6,396 L1324,408 L1319,415 L1307,422 L1295,429.5 L1278.5,430.7 L1281,439 L1274,448.6 L1250,453.4 L1238,456 L1233,460.6 L1221,463 L1214,472.6 L1216,484.5 L1218.6,489 L1223.4,496.5 L1214,503.7 L1214,518 L1223.4,523 L1211.4,530 L1202,542 L1187.5,556.4 L1187.5,566 L1175.5,573 L1171,582.8 L1175.5,592 L1173,599.5 L1161,606.7 L1144.4,611.5 L1128,619.5 L1121,634 L1118,648 L1103.3,667 L1092,683 L1087.3,691 L1068,695.7 L1050.7,702 L1039.5,713.2 L1037.9,724.4 L1033,732.4 L1020.4,743.5 L1012.4,751.5 L1009.2,765.9 L998,769 L966,771.5 L950.2,775.4 L932.6,782.6 L921.5,778.6 L918.3,764.3 L911.9,757.9 L903.9,757.1 L894.4,758.7 L880,769 L877,780 L860,803 L837,823 L830,833 L827,853 L830,860 L860,870 L877,870 L880,883 L873,913 L887,937 L900,938 L917,940 L923,967 L933,983 L950,1015 L942,1017 L940,1027 L952,1037 L933,1043 L923,1052 L912,1050 L910,1038 L880,1047 L853,1055 L837,1047 L813,1047 L787,1050 L776.2,1044.7 L773,1046 L771,1070.3 L740.5,1072.8 L730.3,1080.5 L730.3,1090.7 L725,1098.4 L718.8,1090.7 L712.4,1084.3 L697,1081.8 L683,1076.7 L671.5,1071.5 L669,1066.4 L662.6,1060 L660,1046 L655,1033 L647.9,1020 L643.6,1009.3 L637.2,1006.1 L628.6,1004 L617.9,1002.9 L611.5,1004 L613.6,996.5 L615.8,985.7 L616.8,976.1 L607.2,968.6 L602.9,963.2 L596.5,960 L585.7,958.4 L575,957.9 L564.3,960 L545,963.2 L537.5,966.5 L526.8,966.5 L501,966.6 L469,969.6 L458.9,973.6 L460.9,979.7 L450.8,980.7 L452.8,974.7 L442.7,971.6 L428.5,971.6 L398,967.6 L382,965.5 L368,970.6 L370,976.7 L331,977.7 L291,974.7 L260.5,976.7 L258.5,980 L240,985 L240,992 L230,991 L228.6,980 L228.6,945 L240,936 L237,924.6 L240,907 L243,896 L271.7,890 L277.5,873 L306,867 L346.4,864 L346.4,850 L352,830 L346.4,821 L315,818 L315,804 L312,781 L309,743.6 L297.6,742 L277.5,729 L248.7,715 L220,695 L207.5,677.5 L200,660Z" fill="none" stroke="#000" stroke-width="1.3" stroke-linejoin="round"/>
<path d="M811,461.4 L831,456 L841,450 L855.5,448 L853.5,454 L863.6,462 L862.6,488.7 L869.7,495 L871.7,503 L886,495 L888.7,518.6" fill="none" stroke="#000" stroke-width="1.1" stroke-linejoin="round"/>
<path d="M888.7,518.6 L886,543 L876,551.5 L874,561.6 L868,571.7 L866,586 L874,590 L868,598 L862,612 L851.5,624 L837,640 L834.7,649.2 L837.6,653.5 L843.3,659.3 L849,663.6 L847.6,672 L840.5,680.8 L830.4,692.3 L827.5,696.6 L831.8,702.4 L824.7,712.4 L817,727" fill="none" stroke="#000" stroke-width="1.1" stroke-linejoin="round"/>
<path d="M611.5,1004 L616.6,997.5 L626.8,991 L638.3,982 L642,972 L648.5,965.5 L649.8,955 L658.7,947.7 L663,940 L670,907 L657,880 L648,863 L648,817 L653,790 L667.9,769.7 L698.8,765 L708,760.4 L729.8,744.9 L740.6,740.2 L748.4,729.4 L817,727" fill="none" stroke="#000" stroke-width="1.1" stroke-linejoin="round"/>
<path d="M817,727 L822.7,727.9 L835,725.5 L839.7,727.9 L850.5,732.5 L853.5,740 L855.2,749.5 L858.3,758.8 L866,768.1 L878.4,772" fill="none" stroke="#000" stroke-width="1.1" stroke-linejoin="round"/>
<path d="M888.7,518.6 L901,508 L928,506 L934,498 L936,479 L944.7,462.6 L953,444 L967.5,427 L969.6,417 L961,413 L957,404.5 L953,394 L955,381.7 L978,377.5 L976,363 L984,361 L994.5,373 L1003,365 L998.6,352.6 L1011,342 L1019,332 L1023.5,319 L1034,317 L1038,309 L1052.6,302 L1067,307 L1079.5,307 L1088,317 L1087.3,323 L1108,317 L1128.8,302.4 L1122.6,321 L1112.2,337.7 L1106,339.8 L1101.9,331.5 L1091.5,333.5 L1085,323" fill="none" stroke="#000" stroke-width="1.1" stroke-linejoin="round"/>
<path d="M1128.8,302.4 L1139,313 L1141,325 L1139,350 L1145.4,362.6 L1147.5,373 L1158,379 L1166,379 L1185,385 L1207.7,395.8 L1223,396 L1226,391 L1223,410 L1245,417.5 L1259,422 L1278.5,430.7" fill="none" stroke="#000" stroke-width="1.1" stroke-linejoin="round"/>
<path d="M1133,271 L1137,296 L1128.8,302.4" fill="none" stroke="#000" stroke-width="1.1" stroke-linejoin="round"/>
<path d="M1124.7,180 L1129,184 L1153.7,186 L1158,192 L1151.7,196.6 L1153.7,207 L1166,213 L1180.7,217 L1182.8,221.5 L1178.6,229.8 L1170,236 L1158,242 L1149.6,248.5 L1147.5,259 L1133,271" fill="none" stroke="#000" stroke-width="1.1" stroke-linejoin="round"/>
<path d="M1158,379 L1174.5,360.5 L1187,350 L1187,337.7 L1174.5,329 L1176.6,317 L1195,308.6 L1193,300 L1166,300 L1166,292 L1172.4,283.7 L1168,275.4 L1155.8,273 L1166,263 L1191,254.7 L1199,242 L1212,242 L1232.6,246.4 L1247,252.6 L1259.5,250.5 L1278,259 L1290,261" fill="none" stroke="#000" stroke-width="1.1" stroke-linejoin="round"/>
<path d="M1062,153 L1072,162 L1110,161 L1112,163 L1107,171 L1128,185 L1155,186 L1158,192 L1151,201 L1154,207 L1164,212 L1182.8,217.3 L1207.7,215 L1216,225.6 L1232.6,244 L1251,248 L1275,257 L1306,260 L1324,254 L1354,251 L1387,236 L1433,209 L1454,192" fill="none" stroke="#000" stroke-width="1.1" stroke-linejoin="round"/>
<path d="M1148,80 L1164,89 L1165,94 L1131,93 L1104,97 L1104,105 L1089,117 L1069,129 L1064,133 L1062,153" fill="none" stroke="#000" stroke-width="1.1" stroke-linejoin="round"/>
<path d="M1175.5,360 L1197,379 L1206.6,391 L1209,396" fill="none" stroke="#000" stroke-width="1.1" stroke-linejoin="round"/>
<path d="M832,732.5 L839.7,737 L847.4,738.7 L849,743.3 L841.2,745 L833.5,752.6 L827.3,746.4 L833.5,741.8" fill="none" stroke="#000" stroke-width="1.1" stroke-linejoin="round"/>
<path d="M403,963 L406,958 L413,957 L420,956 L425,960 L421,965 L412,966 L405,966 Z" fill="#fff" stroke="#000" stroke-width="1.2"/>
<path d="M568.6,958 L575,950.4 L583.6,947.2 L593.2,948.2 L602.9,955.7 L606.1,963.2 L599.7,962.2 L593.2,953.6 L584.7,951.4 L575,954.7 L568.6,959 Z" fill="#fff" stroke="#000" stroke-width="1.1"/>
<ellipse cx="1126.5" cy="136" rx="4.4" ry="4" fill="none" stroke="#2a2a2a" stroke-width="1.1"/>
<text x="1131.8" y="129" font-size="10.8" fill="#1a1a1a" letter-spacing="0.3">GPS</text>
<ellipse cx="1199" cy="155" rx="4.4" ry="4" fill="none" stroke="#2a2a2a" stroke-width="1.1"/>
<text x="1202.8" y="148.5" font-size="10.8" fill="#1a1a1a" letter-spacing="0.3">GLT</text>
<ellipse cx="1181.5" cy="193.8" rx="4.4" ry="4" fill="none" stroke="#2a2a2a" stroke-width="1.1"/>
<text x="1184.3" y="187.5" font-size="10.8" fill="#1a1a1a" letter-spacing="0.3">CHT</text>
<ellipse cx="1222.5" cy="198" rx="4.4" ry="4" fill="none" stroke="#2a2a2a" stroke-width="1.1"/>
<text x="1225.8" y="191" font-size="10.8" fill="#1a1a1a" letter-spacing="0.3">BJI</text>
<ellipse cx="1242.5" cy="196.5" rx="4.4" ry="4" fill="none" stroke="#2a2a2a" stroke-width="1.1"/>
<text x="1246.8" y="190" font-size="10.8" fill="#1a1a1a" letter-spacing="0.3">AST</text>
<ellipse cx="1302.5" cy="203" rx="4.4" ry="4" fill="none" stroke="#2a2a2a" stroke-width="1.1"/>
<text x="1305.8999999999999" y="195.8" font-size="10.8" fill="#1a1a1a" letter-spacing="0.3">SKD</text>
<ellipse cx="1006.5" cy="161" rx="4.4" ry="4" fill="none" stroke="#2a2a2a" stroke-width="1.1"/>
<text x="1010.3" y="154" font-size="10.8" fill="#1a1a1a" letter-spacing="0.3">CHL</text>
<ellipse cx="1003.5" cy="182" rx="4.4" ry="4" fill="none" stroke="#2a2a2a" stroke-width="1.1"/>
<text x="1006.8" y="175" font-size="10.8" fill="#1a1a1a" letter-spacing="0.3">DSH</text>
<ellipse cx="1009" cy="210" rx="4.4" ry="4" fill="none" stroke="#2a2a2a" stroke-width="1.1"/>
<text x="1012.8" y="203.5" font-size="10.8" fill="#1a1a1a" letter-spacing="0.3">DIR</text>
<ellipse cx="1047.5" cy="246" rx="4.4" ry="4" fill="none" stroke="#2a2a2a" stroke-width="1.1"/>
<text x="1050.3" y="239" font-size="10.8" fill="#1a1a1a" letter-spacing="0.3">SSH</text>
<ellipse cx="1124" cy="272.5" rx="4.4" ry="4" fill="none" stroke="#2a2a2a" stroke-width="1.1"/>
<text x="1114.3" y="266.5" font-size="10.8" fill="#1a1a1a" letter-spacing="0.3">BKT</text>
<ellipse cx="1134" cy="274" rx="4.4" ry="4" fill="none" stroke="#2a2a2a" stroke-width="1.1"/>
<text x="1136.3" y="266.5" font-size="10.8" fill="#1a1a1a" letter-spacing="0.3">MBD</text>
<ellipse cx="1116.5" cy="288.5" rx="4.4" ry="4" fill="none" stroke="#2a2a2a" stroke-width="1.1"/>
<text x="1119.3" y="281" font-size="10.8" fill="#1a1a1a" letter-spacing="0.3">KKL</text>
<ellipse cx="1144" cy="285" rx="4.4" ry="4" fill="none" stroke="#2a2a2a" stroke-width="1.1"/>
<text x="1146.8" y="280" font-size="10.8" fill="#1a1a1a" letter-spacing="0.3">GDR</text>
<ellipse cx="1126.5" cy="307.5" rx="4.4" ry="4" fill="none" stroke="#2a2a2a" stroke-width="1.1"/>
<text x="1129.3" y="301" font-size="10.8" fill="#1a1a1a" letter-spacing="0.3">MUR</text>
<ellipse cx="1104" cy="330" rx="4.4" ry="4" fill="none" stroke="#2a2a2a" stroke-width="1.1"/>
<text x="1109.3" y="324" font-size="10.8" fill="#1a1a1a" letter-spacing="0.3">RWP</text>
<ellipse cx="1166" cy="338" rx="4.4" ry="4" fill="none" stroke="#2a2a2a" stroke-width="1.1"/>
<text x="1169.3" y="332.5" font-size="10.8" fill="#1a1a1a" letter-spacing="0.3">RTL</text>
<ellipse cx="1152" cy="384" rx="4.4" ry="4" fill="none" stroke="#2a2a2a" stroke-width="1.1"/>
<text x="1155.8" y="377.5" font-size="10.8" fill="#1a1a1a" letter-spacing="0.3">JHE</text>
<ellipse cx="1214" cy="416" rx="4.4" ry="4" fill="none" stroke="#2a2a2a" stroke-width="1.1"/>
<text x="1217.8" y="410" font-size="10.8" fill="#1a1a1a" letter-spacing="0.3">SKT</text>
<ellipse cx="872.5" cy="311.5" rx="4.4" ry="4" fill="none" stroke="#2a2a2a" stroke-width="1.1"/>
<text x="876.8" y="305" font-size="10.8" fill="#1a1a1a" letter-spacing="0.3">PCR</text>
<ellipse cx="988" cy="301" rx="4.4" ry="4" fill="none" stroke="#2a2a2a" stroke-width="1.1"/>
<text x="991.3" y="295" font-size="10.8" fill="#1a1a1a" letter-spacing="0.3">PSH</text>
<ellipse cx="1019" cy="296.5" rx="4.4" ry="4" fill="none" stroke="#2a2a2a" stroke-width="1.1"/>
<text x="1023.3" y="290" font-size="10.8" fill="#1a1a1a" letter-spacing="0.3">RSP</text>
<ellipse cx="1011" cy="315.5" rx="4.4" ry="4" fill="none" stroke="#2a2a2a" stroke-width="1.1"/>
<text x="1014.3" y="308.5" font-size="10.8" fill="#1a1a1a" letter-spacing="0.3">CHE</text>
<ellipse cx="976" cy="334.5" rx="4.4" ry="4" fill="none" stroke="#2a2a2a" stroke-width="1.1"/>
<text x="979.3" y="328.5" font-size="10.8" fill="#1a1a1a" letter-spacing="0.3">KHT</text>
<ellipse cx="986" cy="413" rx="4.4" ry="4" fill="none" stroke="#2a2a2a" stroke-width="1.1"/>
<text x="989.3" y="406" font-size="10.8" fill="#1a1a1a" letter-spacing="0.3">MNW</text>
<ellipse cx="1071" cy="451.5" rx="4.4" ry="4" fill="none" stroke="#2a2a2a" stroke-width="1.1"/>
<text x="1074.3" y="445" font-size="10.8" fill="#1a1a1a" letter-spacing="0.3">SGD</text>
<ellipse cx="937.5" cy="468.5" rx="4.4" ry="4" fill="none" stroke="#2a2a2a" stroke-width="1.1"/>
<text x="940.3" y="462" font-size="10.8" fill="#1a1a1a" letter-spacing="0.3">DIK</text>
<ellipse cx="1104" cy="498.5" rx="4.4" ry="4" fill="none" stroke="#2a2a2a" stroke-width="1.1"/>
<text x="1107.8" y="492" font-size="10.8" fill="#1a1a1a" letter-spacing="0.3">FSD</text>
<ellipse cx="1204" cy="493.5" rx="4.4" ry="4" fill="none" stroke="#2a2a2a" stroke-width="1.1"/>
<text x="1207.8" y="487.5" font-size="10.8" fill="#1a1a1a" letter-spacing="0.3">LHR</text>
<ellipse cx="1035" cy="548.5" rx="4.4" ry="4" fill="none" stroke="#2a2a2a" stroke-width="1.1"/>
<text x="1038.3" y="542.5" font-size="10.8" fill="#1a1a1a" letter-spacing="0.3">SHT</text>
<ellipse cx="976" cy="592.5" rx="4.4" ry="4" fill="none" stroke="#2a2a2a" stroke-width="1.1"/>
<text x="980.3" y="586" font-size="10.8" fill="#1a1a1a" letter-spacing="0.3">MUL</text>
<ellipse cx="1116" cy="612.5" rx="4.4" ry="4" fill="none" stroke="#2a2a2a" stroke-width="1.1"/>
<text x="1119.3" y="606.5" font-size="10.8" fill="#1a1a1a" letter-spacing="0.3">BNR</text>
<ellipse cx="845" cy="619" rx="4.4" ry="4" fill="none" stroke="#2a2a2a" stroke-width="1.1"/>
<text x="848.3" y="611" font-size="10.8" fill="#1a1a1a" letter-spacing="0.3">BKN</text>
<ellipse cx="826.2" cy="504.9" rx="4.4" ry="4" fill="none" stroke="#2a2a2a" stroke-width="1.1"/>
<text x="829.3" y="497.8" font-size="10.8" fill="#1a1a1a" letter-spacing="0.3">ZHB</text>
<ellipse cx="628.2" cy="590" rx="4.4" ry="4" fill="none" stroke="#2a2a2a" stroke-width="1.1"/>
<text x="631.1999999999999" y="582.8" font-size="10.8" fill="#1a1a1a" letter-spacing="0.3">QTA</text>
<ellipse cx="705" cy="642.6" rx="4.4" ry="4" fill="none" stroke="#2a2a2a" stroke-width="1.1"/>
<text x="708.8" y="635.4" font-size="10.8" fill="#1a1a1a" letter-spacing="0.3">SIB</text>
<ellipse cx="605.3" cy="682.8" rx="4.4" ry="4" fill="none" stroke="#2a2a2a" stroke-width="1.1"/>
<text x="608.8" y="675.6" font-size="10.8" fill="#1a1a1a" letter-spacing="0.3">QLT</text>
<ellipse cx="750.2" cy="742.6" rx="4.4" ry="4" fill="none" stroke="#2a2a2a" stroke-width="1.1"/>
<text x="753.6999999999999" y="735.9" font-size="10.8" fill="#1a1a1a" letter-spacing="0.3">JCD</text>
<ellipse cx="312" cy="698.75" rx="4.4" ry="4" fill="none" stroke="#2a2a2a" stroke-width="1.1"/>
<text x="315.3" y="692" font-size="10.8" fill="#1a1a1a" letter-spacing="0.3">NKD</text>
<ellipse cx="438" cy="695" rx="4.4" ry="4" fill="none" stroke="#2a2a2a" stroke-width="1.1"/>
<text x="441.8" y="688" font-size="10.8" fill="#1a1a1a" letter-spacing="0.3">DBN</text>
<ellipse cx="415.4" cy="840.7" rx="4.4" ry="4" fill="none" stroke="#2a2a2a" stroke-width="1.1"/>
<text x="418.3" y="835" font-size="10.8" fill="#1a1a1a" letter-spacing="0.3">PNG</text>
<ellipse cx="609.4" cy="775.2" rx="4.4" ry="4" fill="none" stroke="#2a2a2a" stroke-width="1.1"/>
<text x="611.3" y="768.6" font-size="10.8" fill="#1a1a1a" letter-spacing="0.3">KZD</text>
<ellipse cx="585" cy="896.7" rx="4.4" ry="4" fill="none" stroke="#2a2a2a" stroke-width="1.1"/>
<text x="588.3" y="891" font-size="10.8" fill="#1a1a1a" letter-spacing="0.3">LSB</text>
<ellipse cx="367" cy="962.5" rx="4.4" ry="4" fill="none" stroke="#2a2a2a" stroke-width="1.1"/>
<text x="371.6" y="956.2" font-size="10.8" fill="#1a1a1a" letter-spacing="0.3">PSI</text>
<ellipse cx="455.6" cy="975" rx="4.4" ry="4" fill="none" stroke="#2a2a2a" stroke-width="1.1"/>
<text x="457.8" y="968.6" font-size="10.8" fill="#1a1a1a" letter-spacing="0.3">ORM</text>
<ellipse cx="239" cy="977.8" rx="4.4" ry="4" fill="none" stroke="#2a2a2a" stroke-width="1.1"/>
<text x="242.3" y="973" font-size="10.8" fill="#1a1a1a" letter-spacing="0.3">JWI</text>
<ellipse cx="783.3" cy="785" rx="4.4" ry="4" fill="none" stroke="#2a2a2a" stroke-width="1.1"/>
<text x="787.0" y="778.3" font-size="10.8" fill="#1a1a1a" letter-spacing="0.3">RRI</text>
<ellipse cx="721.7" cy="810" rx="4.4" ry="4" fill="none" stroke="#2a2a2a" stroke-width="1.1"/>
<text x="702.5999999999999" y="791.7" font-size="10.8" fill="#1a1a1a" letter-spacing="0.3">LKN</text>
<ellipse cx="728.3" cy="797.3" rx="4.4" ry="4" fill="none" stroke="#2a2a2a" stroke-width="1.1"/>
<text x="726.0" y="803.3" font-size="10.8" fill="#1a1a1a" letter-spacing="0.3">MJD</text>
<ellipse cx="724.3" cy="850" rx="4.4" ry="4" fill="none" stroke="#2a2a2a" stroke-width="1.1"/>
<text x="727.5999999999999" y="843.3" font-size="10.8" fill="#1a1a1a" letter-spacing="0.3">PDN</text>
<ellipse cx="742.7" cy="896" rx="4.4" ry="4" fill="none" stroke="#2a2a2a" stroke-width="1.1"/>
<text x="745.3" y="889.3" font-size="10.8" fill="#1a1a1a" letter-spacing="0.3">NWB</text>
<ellipse cx="746.7" cy="962.7" rx="4.4" ry="4" fill="none" stroke="#2a2a2a" stroke-width="1.1"/>
<text x="749.3" y="956.7" font-size="10.8" fill="#1a1a1a" letter-spacing="0.3">HYD</text>
<ellipse cx="647.3" cy="999" rx="4.4" ry="4" fill="none" stroke="#2a2a2a" stroke-width="1.1"/>
<text x="651.0" y="992.7" font-size="10.8" fill="#1a1a1a" letter-spacing="0.3">KHI</text>
<ellipse cx="783.3" cy="1020" rx="4.4" ry="4" fill="none" stroke="#2a2a2a" stroke-width="1.1"/>
<text x="786.5999999999999" y="1013.3" font-size="10.8" fill="#1a1a1a" letter-spacing="0.3">BDN</text>
<ellipse cx="850.3" cy="951.7" rx="4.4" ry="4" fill="none" stroke="#2a2a2a" stroke-width="1.1"/>
<text x="854.3" y="945.7" font-size="10.8" fill="#1a1a1a" letter-spacing="0.3">CHR</text>
<ellipse cx="919" cy="712" rx="4.4" ry="4" fill="none" stroke="#2a2a2a" stroke-width="1.1"/>
<text x="921.8" y="705" font-size="10.8" fill="#1a1a1a" letter-spacing="0.3">KPR</text>
<ellipse cx="1003" cy="655" rx="4.4" ry="4" fill="none" stroke="#2a2a2a" stroke-width="1.1"/>
<text x="1006.8" y="648.5" font-size="10.8" fill="#1a1a1a" letter-spacing="0.3">BPR</text>
<text x="957" y="298" font-size="15.2" fill="#2a2a2a">KPK</text>
<text x="1020" y="330.7" font-size="15.5" fill="#2a2a2a">ISLAMABAD</text>
<text x="1168.5" y="170.5" font-size="15" fill="#2a2a2a">GILGIT BALTIS*</text>
<text x="1150" y="349.5" font-size="16" fill="#2a2a2a">AJK</text>
<text x="933" y="552" font-size="16" fill="#2a2a2a">PUNJAB</text>
<text x="465.5" y="743.6" font-size="15.5" fill="#2a2a2a">BALOCHISTAN</text>
<text x="747" y="920" font-size="16" fill="#2a2a2a">SINDH</text>
<path d="M40.25,34.4 H1646.45 V1222.05 H40.25 Z" fill="none" stroke="#000" stroke-width="2.8"/>
<line x1="101.5" y1="23" x2="101.5" y2="34" stroke="#000" stroke-width="2.5"/>
<line x1="101.5" y1="1222" x2="101.5" y2="1233" stroke="#000" stroke-width="2.5"/>
<text x="101.5" y="18" font-size="19.8" text-anchor="middle" fill="#000">60°E</text>
<text x="101.5" y="1252" font-size="19.8" text-anchor="middle" fill="#000">60°E</text>
<line x1="254.7" y1="23" x2="254.7" y2="34" stroke="#000" stroke-width="2.5"/>
<line x1="254.7" y1="1222" x2="254.7" y2="1233" stroke="#000" stroke-width="2.5"/>
<text x="254.7" y="18" font-size="19.8" text-anchor="middle" fill="#000">62°E</text>
<text x="254.7" y="1252" font-size="19.8" text-anchor="middle" fill="#000">62°E</text>
<line x1="407.9" y1="23" x2="407.9" y2="34" stroke="#000" stroke-width="2.5"/>
<line x1="407.9" y1="1222" x2="407.9" y2="1233" stroke="#000" stroke-width="2.5"/>
<text x="407.9" y="18" font-size="19.8" text-anchor="middle" fill="#000">64°E</text>
<text x="407.9" y="1252" font-size="19.8" text-anchor="middle" fill="#000">64°E</text>
<line x1="561.1" y1="23" x2="561.1" y2="34" stroke="#000" stroke-width="2.5"/>
<line x1="561.1" y1="1222" x2="561.1" y2="1233" stroke="#000" stroke-width="2.5"/>
<text x="561.1" y="18" font-size="19.8" text-anchor="middle" fill="#000">66°E</text>
<text x="561.1" y="1252" font-size="19.8" text-anchor="middle" fill="#000">66°E</text>
<line x1="714.3" y1="23" x2="714.3" y2="34" stroke="#000" stroke-width="2.5"/>
<line x1="714.3" y1="1222" x2="714.3" y2="1233" stroke="#000" stroke-width="2.5"/>
<text x="714.3" y="18" font-size="19.8" text-anchor="middle" fill="#000">68°E</text>
<text x="714.3" y="1252" font-size="19.8" text-anchor="middle" fill="#000">68°E</text>
<line x1="867.5" y1="23" x2="867.5" y2="34" stroke="#000" stroke-width="2.5"/>
<line x1="867.5" y1="1222" x2="867.5" y2="1233" stroke="#000" stroke-width="2.5"/>
<text x="867.5" y="18" font-size="19.8" text-anchor="middle" fill="#000">70°E</text>
<text x="867.5" y="1252" font-size="19.8" text-anchor="middle" fill="#000">70°E</text>
<line x1="1020.7" y1="23" x2="1020.7" y2="34" stroke="#000" stroke-width="2.5"/>
<line x1="1020.7" y1="1222" x2="1020.7" y2="1233" stroke="#000" stroke-width="2.5"/>
<text x="1020.7" y="18" font-size="19.8" text-anchor="middle" fill="#000">72°E</text>
<text x="1020.7" y="1252" font-size="19.8" text-anchor="middle" fill="#000">72°E</text>
<line x1="1173.9" y1="23" x2="1173.9" y2="34" stroke="#000" stroke-width="2.5"/>
<line x1="1173.9" y1="1222" x2="1173.9" y2="1233" stroke="#000" stroke-width="2.5"/>
<text x="1173.9" y="18" font-size="19.8" text-anchor="middle" fill="#000">74°E</text>
<text x="1173.9" y="1252" font-size="19.8" text-anchor="middle" fill="#000">74°E</text>
<line x1="1327.1" y1="23" x2="1327.1" y2="34" stroke="#000" stroke-width="2.5"/>
<line x1="1327.1" y1="1222" x2="1327.1" y2="1233" stroke="#000" stroke-width="2.5"/>
<text x="1327.1" y="18" font-size="19.8" text-anchor="middle" fill="#000">76°E</text>
<text x="1327.1" y="1252" font-size="19.8" text-anchor="middle" fill="#000">76°E</text>
<line x1="1480.3" y1="23" x2="1480.3" y2="34" stroke="#000" stroke-width="2.5"/>
<line x1="1480.3" y1="1222" x2="1480.3" y2="1233" stroke="#000" stroke-width="2.5"/>
<text x="1480.3" y="18" font-size="19.8" text-anchor="middle" fill="#000">78°E</text>
<text x="1480.3" y="1252" font-size="19.8" text-anchor="middle" fill="#000">78°E</text>
<line x1="1633.5" y1="23" x2="1633.5" y2="34" stroke="#000" stroke-width="2.5"/>
<line x1="1633.5" y1="1222" x2="1633.5" y2="1233" stroke="#000" stroke-width="2.5"/>
<text x="1633.5" y="18" font-size="19.8" text-anchor="middle" fill="#000">80°E</text>
<text x="1633.5" y="1252" font-size="19.8" text-anchor="middle" fill="#000">80°E</text>
<line x1="30" y1="148.8" x2="40" y2="148.8" stroke="#000" stroke-width="2.5"/>
<line x1="1646" y1="148.8" x2="1657" y2="148.8" stroke="#000" stroke-width="2.5"/>
<text transform="translate(23.8,148.8) rotate(-90)" font-size="19.8" text-anchor="middle" fill="#000">36°N</text>
<text transform="translate(1676.5,148.8) rotate(-90)" font-size="19.8" text-anchor="middle" fill="#000">36°N</text>
<line x1="30" y1="302.0" x2="40" y2="302.0" stroke="#000" stroke-width="2.5"/>
<line x1="1646" y1="302.0" x2="1657" y2="302.0" stroke="#000" stroke-width="2.5"/>
<text transform="translate(23.8,302.0) rotate(-90)" font-size="19.8" text-anchor="middle" fill="#000">34°N</text>
<text transform="translate(1676.5,302.0) rotate(-90)" font-size="19.8" text-anchor="middle" fill="#000">34°N</text>
<line x1="30" y1="455.2" x2="40" y2="455.2" stroke="#000" stroke-width="2.5"/>
<line x1="1646" y1="455.2" x2="1657" y2="455.2" stroke="#000" stroke-width="2.5"/>
<text transform="translate(23.8,455.2) rotate(-90)" font-size="19.8" text-anchor="middle" fill="#000">32°N</text>
<text transform="translate(1676.5,455.2) rotate(-90)" font-size="19.8" text-anchor="middle" fill="#000">32°N</text>
<line x1="30" y1="608.4" x2="40" y2="608.4" stroke="#000" stroke-width="2.5"/>
<line x1="1646" y1="608.4" x2="1657" y2="608.4" stroke="#000" stroke-width="2.5"/>
<text transform="translate(23.8,608.4) rotate(-90)" font-size="19.8" text-anchor="middle" fill="#000">30°N</text>
<text transform="translate(1676.5,608.4) rotate(-90)" font-size="19.8" text-anchor="middle" fill="#000">30°N</text>
<line x1="30" y1="761.6" x2="40" y2="761.6" stroke="#000" stroke-width="2.5"/>
<line x1="1646" y1="761.6" x2="1657" y2="761.6" stroke="#000" stroke-width="2.5"/>
<text transform="translate(23.8,761.6) rotate(-90)" font-size="19.8" text-anchor="middle" fill="#000">28°N</text>
<text transform="translate(1676.5,761.6) rotate(-90)" font-size="19.8" text-anchor="middle" fill="#000">28°N</text>
<line x1="30" y1="914.8" x2="40" y2="914.8" stroke="#000" stroke-width="2.5"/>
<line x1="1646" y1="914.8" x2="1657" y2="914.8" stroke="#000" stroke-width="2.5"/>
<text transform="translate(23.8,914.8) rotate(-90)" font-size="19.8" text-anchor="middle" fill="#000">26°N</text>
<text transform="translate(1676.5,914.8) rotate(-90)" font-size="19.8" text-anchor="middle" fill="#000">26°N</text>
<line x1="30" y1="1068.0" x2="40" y2="1068.0" stroke="#000" stroke-width="2.5"/>
<line x1="1646" y1="1068.0" x2="1657" y2="1068.0" stroke="#000" stroke-width="2.5"/>
<text transform="translate(23.8,1068.0) rotate(-90)" font-size="19.8" text-anchor="middle" fill="#000">24°N</text>
<text transform="translate(1676.5,1068.0) rotate(-90)" font-size="19.8" text-anchor="middle" fill="#000">24°N</text>
<line x1="30" y1="1221.2" x2="40" y2="1221.2" stroke="#000" stroke-width="2.5"/>
<line x1="1646" y1="1221.2" x2="1657" y2="1221.2" stroke="#000" stroke-width="2.5"/>
<text transform="translate(23.8,1221.2) rotate(-90)" font-size="19.8" text-anchor="middle" fill="#000">22°N</text>
<text x="56" y="78" font-size="46.5" font-weight="bold" fill="#000">Lowest Visibility(m) Last 12 Hours</text>
<text x="56" y="131.5" font-size="46.7" font-weight="bold" fill="#000">06 Mar 2026</text>
<text x="56" y="1124.7" font-size="35" font-weight="bold" fill="#000">Flood Forecasting Division, Lahore</text>
<text x="56" y="1164" font-size="35" font-weight="bold" fill="#000">Pakistan Meteorological Department</text>
<text x="1631.5" y="1201.7" font-size="27.3" font-weight="bold" text-anchor="end" fill="#000">Date: 06/03/2026</text>
<text x="1289" y="616" font-size="29.5" font-weight="bold" fill="#000">Legend</text>
<text x="1289" y="663.5" font-size="25.5" font-weight="bold" fill="#000">Lvis</text>
<text x="1289" y="700.6" font-size="23.5" font-weight="bold" fill="#000">Visibility (m)</text>
<rect x="1289.5" y="716.5" width="57.5" height="28" fill="#FCEEFB" stroke="#6e6e6e" stroke-width="2"/>
<text x="1358.5" y="738.5" font-size="21.3" fill="#000">150 - 1,200</text>
<rect x="1289.5" y="756.2" width="57.5" height="28" fill="#E0B4BD" stroke="#6e6e6e" stroke-width="2"/>
<text x="1358.5" y="778.2" font-size="21.3" fill="#000">1,300 - 2,300</text>
<rect x="1289.5" y="795.9" width="57.5" height="28" fill="#C08A7A" stroke="#6e6e6e" stroke-width="2"/>
<text x="1358.5" y="817.9" font-size="21.3" fill="#000">2,400 - 3,400</text>
<rect x="1289.5" y="835.6" width="57.5" height="28" fill="#D8A780" stroke="#6e6e6e" stroke-width="2"/>
<text x="1358.5" y="857.6" font-size="21.3" fill="#000">3,500 - 4,500</text>
<rect x="1289.5" y="875.3" width="57.5" height="28" fill="#F2CC85" stroke="#6e6e6e" stroke-width="2"/>
<text x="1358.5" y="897.3" font-size="21.3" fill="#000">4,600 - 5,600</text>
<rect x="1289.5" y="915.0" width="57.5" height="28" fill="#F2DE98" stroke="#6e6e6e" stroke-width="2"/>
<text x="1358.5" y="937.0" font-size="21.3" fill="#000">5,700 - 6,700</text>
<rect x="1289.5" y="954.7" width="57.5" height="28" fill="#F2F0A2" stroke="#6e6e6e" stroke-width="2"/>
<text x="1358.5" y="976.7" font-size="21.3" fill="#000">6,800 - 7,800</text>
<rect x="1289.5" y="994.4" width="57.5" height="28" fill="#AFC47F" stroke="#6e6e6e" stroke-width="2"/>
<text x="1358.5" y="1016.4" font-size="21.3" fill="#000">7,900 - 8,900</text>
<rect x="1289.5" y="1034.1" width="57.5" height="28" fill="#6E975A" stroke="#6e6e6e" stroke-width="2"/>
<text x="1358.5" y="1056.1" font-size="21.3" fill="#000">9,000 - 10,000</text>
<ellipse cx="1318.5" cy="1086.5" rx="4.3" ry="3.8" fill="none" stroke="#000" stroke-width="1.2"/>
<text x="1358.5" y="1094" font-size="21.3" fill="#000">Station</text>
<rect x="1289.5" y="1112.5" width="58" height="28.5" fill="#fff" stroke="#000" stroke-width="1.3"/>
<text x="1358.5" y="1133.5" font-size="21.3" fill="#000">Pakistan</text>
<rect x="45.3" y="1197.4" width="689.5" height="8.4" fill="#000"/>
<rect x="89.8" y="1199.5" width="41.1" height="4.5" fill="#fff"/>
<rect x="176" y="1199.5" width="41.0" height="4.5" fill="#fff"/>
<rect x="390" y="1199.5" width="171.0" height="4.5" fill="#fff"/>
<text x="46" y="1191" font-size="13.5" font-weight="bold" text-anchor="middle" fill="#172c66">0</text>
<text x="132.5" y="1191" font-size="13.5" font-weight="bold" text-anchor="middle" fill="#172c66">125</text>
<text x="218" y="1191" font-size="13.5" font-weight="bold" text-anchor="middle" fill="#172c66">250</text>
<text x="390" y="1191" font-size="13.5" font-weight="bold" text-anchor="middle" fill="#172c66">500</text>
<text x="561.5" y="1191" font-size="13.5" font-weight="bold" text-anchor="middle" fill="#172c66">750</text>
<text x="733.5" y="1191" font-size="13.5" font-weight="bold" text-anchor="middle" fill="#172c66">1,000</text>
<text x="738.5" y="1205" font-size="14.2" font-weight="bold" fill="#172c66">Kilometers</text>
<g transform="translate(1545.2,141.4)"><circle r="47.5" fill="none" stroke="#000" stroke-width="6.2"/><circle r="46.0" fill="none" stroke="#fff" stroke-width="1.6" stroke-dasharray="14.1 22.03" stroke-dashoffset="-2.04"/><path d="M0,0 L29.91,-29.91 L15.80,-0.00 Z" fill="#000" stroke="#000" stroke-width="0.7" stroke-linejoin="round"/><path d="M0,0 L29.91,-29.91 L0.00,-15.80 Z" fill="#fff" stroke="#000" stroke-width="0.9" stroke-linejoin="round"/><path d="M0,0 L29.91,29.91 L0.00,15.80 Z" fill="#000" stroke="#000" stroke-width="0.7" stroke-linejoin="round"/><path d="M0,0 L29.91,29.91 L15.80,-0.00 Z" fill="#fff" stroke="#000" stroke-width="0.9" stroke-linejoin="round"/><path d="M0,0 L-29.91,29.91 L-15.80,0.00 Z" fill="#000" stroke="#000" stroke-width="0.7" stroke-linejoin="round"/><path d="M0,0 L-29.91,29.91 L0.00,15.80 Z" fill="#fff" stroke="#000" stroke-width="0.9" stroke-linejoin="round"/><path d="M0,0 L-29.91,-29.91 L-0.00,-15.80 Z" fill="#000" stroke="#000" stroke-width="0.7" stroke-linejoin="round"/><path d="M0,0 L-29.91,-29.91 L-15.80,0.00 Z" fill="#fff" stroke="#000" stroke-width="0.9" stroke-linejoin="round"/><path d="M0,0 L0.00,-60.30 L12.37,-12.37 Z" fill="#000" stroke="#000" stroke-width="0.7" stroke-linejoin="round"/><path d="M0,0 L0.00,-60.30 L-12.37,-12.37 Z" fill="#fff" stroke="#000" stroke-width="0.9" stroke-linejoin="round"/><path d="M0,0 L60.30,-0.00 L12.37,12.37 Z" fill="#000" stroke="#000" stroke-width="0.7" stroke-linejoin="round"/><path d="M0,0 L60.30,-0.00 L12.37,-12.37 Z" fill="#fff" stroke="#000" stroke-width="0.9" stroke-linejoin="round"/><path d="M0,0 L0.00,60.30 L-12.37,12.37 Z" fill="#000" stroke="#000" stroke-width="0.7" stroke-linejoin="round"/><path d="M0,0 L0.00,60.30 L12.37,12.37 Z" fill="#fff" stroke="#000" stroke-width="0.9" stroke-linejoin="round"/><path d="M0,0 L-60.30,0.00 L-12.37,-12.37 Z" fill="#000" stroke="#000" stroke-width="0.7" stroke-linejoin="round"/><path d="M0,0 L-60.30,0.00 L-12.37,12.37 Z" fill="#fff" stroke="#000" stroke-width="0.9" stroke-linejoin="round"/><g transform="translate(21.0,-50.8) rotate(22.5)"><path d="M-1.6,1.2 L1.6,1.2 L0,-1.8 Z" fill="#333"/></g><g transform="translate(50.8,-21.0) rotate(67.5)"><path d="M-1.6,1.2 L1.6,1.2 L0,-1.8 Z" fill="#333"/></g><g transform="translate(50.8,21.0) rotate(112.5)"><path d="M-1.6,1.2 L1.6,1.2 L0,-1.8 Z" fill="#333"/></g><g transform="translate(21.0,50.8) rotate(157.5)"><path d="M-1.6,1.2 L1.6,1.2 L0,-1.8 Z" fill="#333"/></g><g transform="translate(-21.0,50.8) rotate(202.5)"><path d="M-1.6,1.2 L1.6,1.2 L0,-1.8 Z" fill="#333"/></g><g transform="translate(-50.8,21.0) rotate(247.5)"><path d="M-1.6,1.2 L1.6,1.2 L0,-1.8 Z" fill="#333"/></g><g transform="translate(-50.8,-21.0) rotate(292.5)"><path d="M-1.6,1.2 L1.6,1.2 L0,-1.8 Z" fill="#333"/></g><g transform="translate(-21.0,-50.8) rotate(337.5)"><path d="M-1.6,1.2 L1.6,1.2 L0,-1.8 Z" fill="#333"/></g></g>
<text x="1545.7" y="75.1" font-size="30" text-anchor="middle" fill="#000" style="font-family:'Liberation Serif',serif">N</text>
<text x="1545.5" y="228.3" font-size="30" text-anchor="middle" fill="#000" style="font-family:'Liberation Serif',serif">S</text>
<text x="1470.7" y="151.7" font-size="30" text-anchor="middle" fill="#000" style="font-family:'Liberation Serif',serif">W</text>
<text x="1618" y="152" font-size="30" text-anchor="middle" fill="#000" style="font-family:'Liberation Serif',serif">E</text>
</svg></body></html>
